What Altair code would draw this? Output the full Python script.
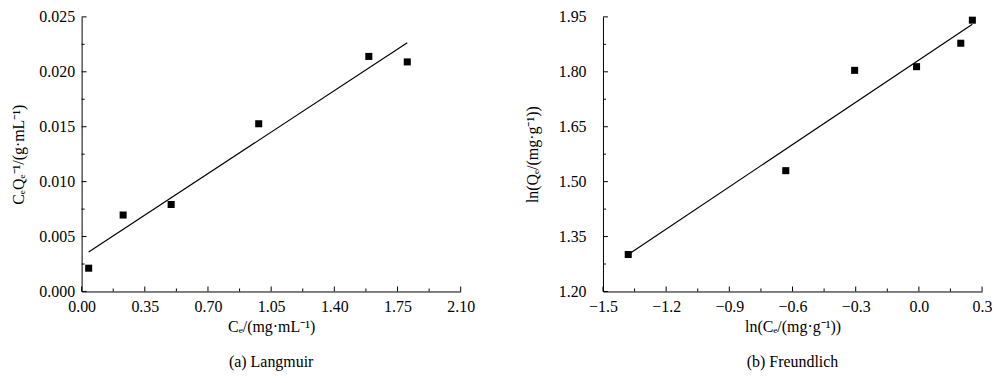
import altair as alt
import pandas as pd

# ---- (a) Langmuir ----
lang_ce = [0.039, 0.230, 0.496, 0.981, 1.591, 1.804]
lang_ceqe = [0.00212, 0.00696, 0.00792, 0.01527, 0.0214, 0.0209]
lang_fit_x = [0.039, 1.804]
lang_fit_y = [0.0036, 0.02265]
lang_x_ticks = [0.0, 0.35, 0.70, 1.05, 1.40, 1.75, 2.10]
lang_x_minor = [0.175, 0.525, 0.875, 1.225, 1.575, 1.925]
lang_y_ticks = [0.0, 0.005, 0.010, 0.015, 0.020, 0.025]
lang_y_minor = [0.0025, 0.0075, 0.0125, 0.0175, 0.0225]

# ---- (b) Freundlich ----
fr_lnce = [-1.380, -0.632, -0.305, -0.011, 0.199, 0.254]
fr_lnqe = [1.301, 1.530, 1.804, 1.814, 1.878, 1.941]
fr_fit_x = [-1.380, 0.254]
fr_fit_y = [1.301, 1.930]
fr_x_ticks = [-1.5, -1.2, -0.9, -0.6, -0.3, 0.0, 0.3]
fr_x_minor = [-1.35, -1.05, -0.75, -0.45, -0.15, 0.15]
fr_y_ticks = [1.20, 1.35, 1.50, 1.65, 1.80, 1.95]
fr_y_minor = [1.275, 1.425, 1.575, 1.725, 1.875]

FONT = "Liberation Serif"
W, H = 381, 276


def panel(xs, ys, fx, fy, xdom, ydom, xt, xm, yt, ym, xtitle, ytitle,
          xfmt, yfmt, caption, ylabpad, ytitlepad):
    xscale = alt.Scale(domain=xdom, nice=False, zero=False)
    yscale = alt.Scale(domain=ydom, nice=False, zero=False)
    common = dict(domainColor="black", domainWidth=1, grid=False, ticks=False,
                  tickSize=0, labelFont=FONT, labelFontSize=16, labelColor="black",
                  titleFont=FONT, titleFontSize=16, titleFontWeight="normal",
                  titleColor="black", labelFlush=False, labelOverlap=False)
    xaxis = alt.Axis(values=xt, format=xfmt, title=xtitle, labelPadding=7,
                     titlePadding=4, **common)
    yaxis = alt.Axis(values=yt, format=yfmt, title=ytitle, labelPadding=ylabpad,
                     titlePadding=ytitlepad, **common)

    pts = alt.Chart(pd.DataFrame({"x": xs, "y": ys})).mark_point(
        shape="square", filled=True, size=50, color="black", opacity=1
    ).encode(x=alt.X("x:Q", scale=xscale, axis=xaxis),
             y=alt.Y("y:Q", scale=yscale, axis=yaxis))

    fit = alt.Chart(pd.DataFrame({"x": fx, "y": fy})).mark_line(
        color="black", strokeWidth=1.2
    ).encode(x=alt.X("x:Q", scale=xscale),
             y=alt.Y("y:Q", scale=yscale))

    def xtick(vals, ln):
        return alt.Chart(pd.DataFrame({"v": vals})).mark_rule(
            color="black", strokeWidth=1
        ).encode(x=alt.X("v:Q", scale=xscale),
                 y=alt.value(H), y2=alt.value(H - ln))

    def ytick(vals, ln):
        return alt.Chart(pd.DataFrame({"v": vals})).mark_rule(
            color="black", strokeWidth=1
        ).encode(y=alt.Y("v:Q", scale=yscale),
                 x=alt.value(0), x2=alt.value(ln))

    return alt.layer(
        pts, fit, xtick(xt, 5), xtick(xm, 3), ytick(yt, 5), ytick(ym, 3)
    ).properties(
        width=W, height=H,
        title=alt.TitleParams(caption, orient="bottom", anchor="middle",
                              font=FONT, fontSize=16, fontWeight="normal",
                              color="black", offset=20)
    )


left = panel(lang_ce, lang_ceqe, lang_fit_x, lang_fit_y, [0, 2.1], [0, 0.025],
             lang_x_ticks, lang_x_minor, lang_y_ticks, lang_y_minor,
             "Cₑ/(mg·mL⁻¹)", "CₑQₑ⁻¹/(g·mL⁻¹)", ".2f", ".3f",
             "(a) Langmuir", 7, 12)
right = panel(fr_lnce, fr_lnqe, fr_fit_x, fr_fit_y, [-1.5, 0.3], [1.2, 1.95],
              fr_x_ticks, fr_x_minor, fr_y_ticks, fr_y_minor,
              "ln(Cₑ/(mg·g⁻¹))", "ln(Qₑ/(mg·g⁻¹))", ".1f", ".2f",
              "(b) Freundlich", 17, 18)

chart = alt.hconcat(left, right, spacing=50).properties(
    padding={"left": 3, "top": 0, "right": 0, "bottom": 0}
).configure_view(stroke=None)
chart.save("out.html", embed_options={"renderer": "svg", "actions": False})
